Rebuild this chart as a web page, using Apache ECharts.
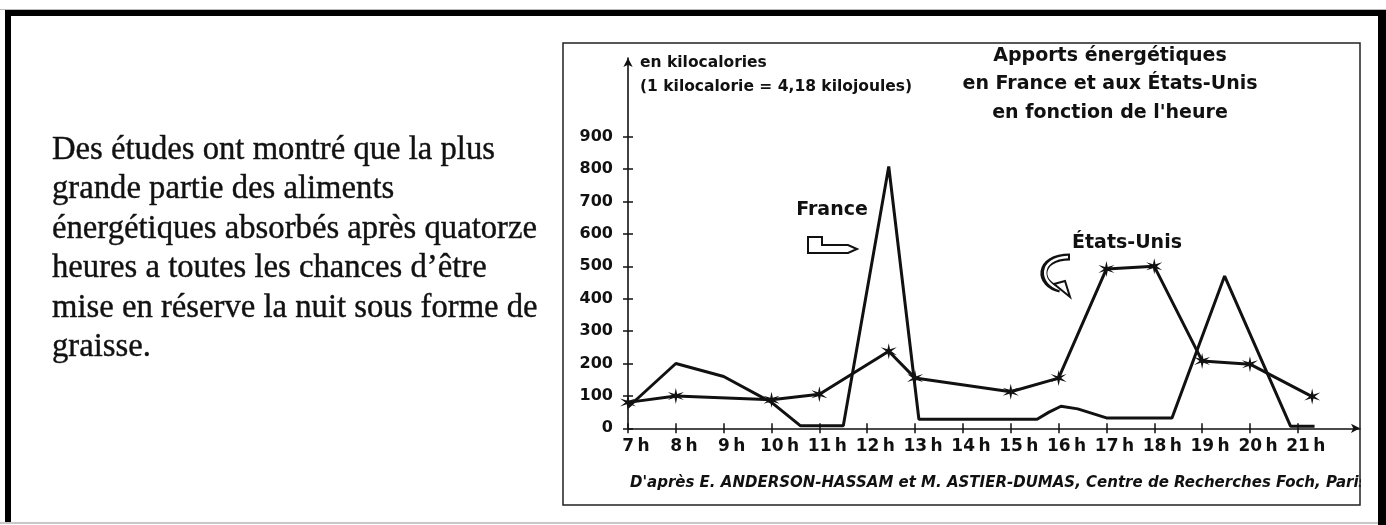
<!DOCTYPE html>
<html>
<head>
<meta charset="utf-8">
<script src="https://cdn.jsdelivr.net/npm/echarts@6/dist/echarts.min.js"></script>
<style>
html,body{margin:0;padding:0;background:#fff;}
#chart{width:1386px;height:525px;}
</style>
</head>
<body>
<div id="chart"></div>
<script>
// ---- data ----
const hourTicks = [7, 8, 9, 10, 11, 12, 13, 14, 15, 16, 17, 18, 19, 20, 21];
const kcalTicks = [0, 100, 200, 300, 400, 500, 600, 700, 800, 900];

const franceHours  = [7, 8, 9, 10, 10.6, 11.5, 12.45, 13.08, 15.55, 15.8, 16.05, 16.4, 17.0, 18.37, 19.47, 20.85, 21.35];
const franceValues = [65, 200, 160, 80, 8, 8, 808, 28, 28, 50, 68, 60, 32, 32, 470, 6, 6];

const usHours  = [7, 8, 10, 11, 12.45, 13, 15, 16, 17, 18, 19, 20, 21.3];
const usValues = [80, 100, 88, 105, 238, 155, 113, 155, 492, 500, 208, 198, 98];

const unitText = 'en kilocalories\n(1 kilocalorie = 4,18 kilojoules)';
const titleText = 'Apports énergétiques\nen France et aux États-Unis\nen fonction de l\'heure';
const franceLabel = 'France';
const usLabel = 'États-Unis';
const sourceText = 'D\'après E. ANDERSON-HASSAM et M. ASTIER-DUMAS, Centre de Recherches Foch, Paris';
const paragraph = 'Des études ont montré que la plus\ngrande partie des aliments\nénergétiques absorbés après quatorze\nheures a toutes les chances d’être\nmise en réserve la nuit sous forme de\ngraisse.';

// ---- build ----
const franceData = franceHours.map((h, i) => [h, franceValues[i]]);
const usData = usHours.map((h, i) => [h, usValues[i]]);

const INK = '#111';
const SANS = '"DejaVu Sans", sans-serif';
const starPath = 'path://M10 0 L11.4 7.575 L18.66 5 L12.8 10 L18.66 15 L11.4 12.425 L10 20 L8.6 12.425 L1.34 15 L7.2 10 L1.34 5 L8.6 7.575 Z';

function txt(x, y, text, font, align, valign, extra) {
  return {
    type: 'text', x: x, y: y, z: 10,
    style: Object.assign({
      text: text, font: font, fill: INK,
      align: align, verticalAlign: valign,
      textAlign: align, textVerticalAlign: valign
    }, extra || {})
  };
}

const chart = echarts.init(document.getElementById('chart'), null, {renderer: 'canvas'});
chart.setOption({
  backgroundColor: '#fff',
  animation: false,
  grid: {left: 628, right: 26, top: 58, bottom: 96.7, containLabel: false},
  xAxis: [{
    type: 'value', min: 7, max: 22.3,
    splitLine: {show: false},
    axisLine: {show: true, onZero: false, lineStyle: {color: INK, width: 1.6}, symbol: ['none', 'arrow'], symbolSize: [7, 9]},
    axisTick: {show: true, customValues: hourTicks, length: 5, lineStyle: {color: INK, width: 1.5}},
    axisLabel: {
      customValues: hourTicks, margin: 10, color: INK,
      fontFamily: SANS, fontWeight: 'bold', fontSize: 17,
      padding: [0, 0, 0, 16],
      formatter: v => v + '\u2009h'
    }
  }, {
    type: 'value', min: 7, max: 22.3, position: 'bottom', offset: 0,
    splitLine: {show: false},
    axisLine: {show: false, onZero: false},
    axisTick: {show: true, inside: true, customValues: hourTicks, length: 5, lineStyle: {color: INK, width: 1.5}},
    axisLabel: {show: false}
  }],
  yAxis: [{
    type: 'value', min: 0, max: 1143,
    splitLine: {show: false},
    axisLine: {show: true, onZero: false, lineStyle: {color: INK, width: 1.6}, symbol: ['none', 'arrow'], symbolSize: [7, 9]},
    axisTick: {show: true, customValues: kcalTicks, length: 5, lineStyle: {color: INK, width: 1.5}},
    axisLabel: {
      customValues: kcalTicks, margin: 15, color: INK,
      fontFamily: SANS, fontWeight: 'bold', fontSize: 16
    }
  }, {
    type: 'value', min: 0, max: 1143, position: 'left', offset: 0,
    splitLine: {show: false},
    axisLine: {show: false, onZero: false},
    axisTick: {show: true, inside: true, customValues: kcalTicks, length: 5, lineStyle: {color: INK, width: 1.5}},
    axisLabel: {show: false}
  }],
  series: [{
    name: 'France', type: 'line', data: franceData,
    xAxisIndex: 0, yAxisIndex: 0,
    showSymbol: false, symbol: 'none',
    lineStyle: {color: INK, width: 3}, z: 3
  }, {
    name: 'États-Unis', type: 'line', data: usData,
    xAxisIndex: 0, yAxisIndex: 0,
    symbol: starPath, symbolSize: 16, showSymbol: true,
    itemStyle: {color: INK},
    lineStyle: {color: INK, width: 3}, z: 4
  }],
  graphic: [
    // outer page frame
    {type: 'rect', shape: {x: 0, y: 9, width: 1386, height: 1}, style: {fill: '#bbb'}, z: 1},
    {type: 'rect', shape: {x: 5, y: 10, width: 1381, height: 6}, style: {fill: '#000'}, z: 1},
    {type: 'rect', shape: {x: 5, y: 10, width: 6, height: 513}, style: {fill: '#000'}, z: 1},
    {type: 'rect', shape: {x: 1378, y: 10, width: 8, height: 515}, style: {fill: '#000'}, z: 1},
    {type: 'rect', shape: {x: 0, y: 522, width: 1378, height: 2}, style: {fill: '#c8c8c8'}, z: 1},
    // paragraph
    txt(52, 130.5, paragraph, '32.7px "Liberation Serif", serif', 'left', 'top', {lineHeight: 39.5, stroke: '#222', lineWidth: 0.4}),
    // chart texts
    txt(640, 50.7, unitText, 'bold 15.5px ' + SANS, 'left', 'top', {lineHeight: 24}),
    txt(1110, 42.2, titleText, 'bold 19px ' + SANS, 'center', 'top', {lineHeight: 28.2}),
    txt(832, 210, franceLabel, 'bold 19px ' + SANS, 'center', 'middle'),
    txt(1127, 243, usLabel, 'bold 19px ' + SANS, 'center', 'middle'),
    txt(630, 483, sourceText, 'italic bold 15px ' + SANS, 'left', 'middle'),
    // cover to clip source text at box edge
    {type: 'rect', shape: {x: 1361, y: 465, width: 17, height: 35}, style: {fill: '#fff'}, z: 11},
    // chart box
    {type: 'rect', shape: {x: 563, y: 43, width: 797, height: 462}, style: {fill: 'none', stroke: '#222', lineWidth: 1.5}, z: 12},
    // France pointer arrow
    {type: 'polygon', shape: {points: [[808, 237], [822, 237], [822, 245], [848, 245], [857, 249], [848, 253], [808, 253]]},
      style: {fill: '#fff', stroke: INK, lineWidth: 2}, z: 12},
    // États-Unis curly arrow
    {type: 'bezierCurve', shape: {x1: 1070, y1: 257, cpx1: 1036, cpy1: 257, cpx2: 1038, cpy2: 285, x2: 1060, y2: 289},
      style: {stroke: INK, lineWidth: 7, fill: 'none'}, z: 12},
    {type: 'bezierCurve', shape: {x1: 1068, y1: 257, cpx1: 1038, cpy1: 258, cpx2: 1040, cpy2: 284, x2: 1060, y2: 289},
      style: {stroke: '#fff', lineWidth: 2.5, fill: 'none'}, z: 13},
    {type: 'polygon', shape: {points: [[1054, 284], [1070, 297], [1065, 281]]},
      style: {fill: '#fff', stroke: INK, lineWidth: 2}, z: 14}
  ]
});
</script>
</body>
</html>
